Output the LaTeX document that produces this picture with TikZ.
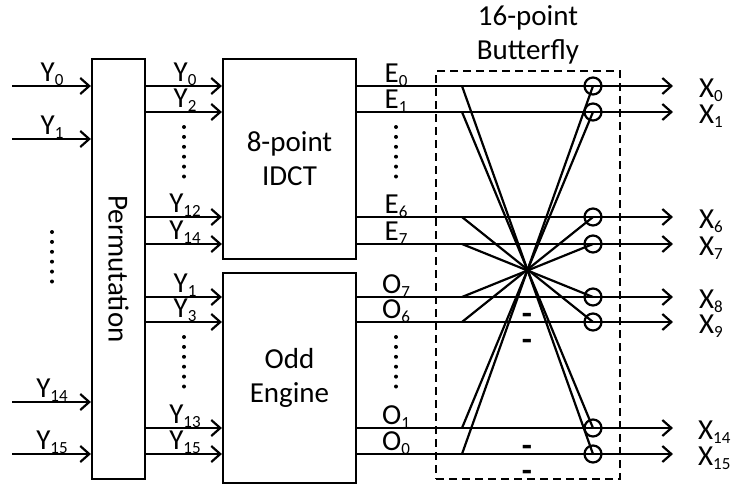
\documentclass[tikz,border=0pt]{standalone}
\usepackage{fontspec}
\setmainfont{Carlito}
\usetikzlibrary{arrows.meta,positioning}

\newcommand{\ssub}[1]{\raisebox{-4pt}{\fontsize{17}{17}\selectfont#1}}

\begin{document}
\begin{tikzpicture}[
  x=1pt, y=-1pt,
  font=\fontsize{29}{34}\selectfont,
  line width=2.2pt,
  blk/.style={draw, minimum width=133pt, inner sep=0pt, align=center},
  sig/.style={anchor=base, inner sep=0pt},
  outsig/.style={anchor=base west, inner sep=0pt},
  addnode/.style={draw, circle, minimum size=17pt, inner sep=0pt},
  dotcol/.style={line width=4pt, line cap=round, dash pattern=on 0pt off 9.9pt},
  minus/.style={font=\fontsize{33}{34}\selectfont\bfseries, inner sep=0pt, anchor=base},
  >={Straight Barb[length=9pt,width=16pt]}
]
\useasboundingbox (0,0) rectangle (732,483);

% blocks
\node[draw, minimum width=53pt, minimum height=420pt, inner sep=0pt] (perm) at (118.5,269) {};
\node[rotate=-90] (permtxt) at (perm.center) {Permutation};
\node[blk, minimum height=200pt] (idct) at (289.5,159) {8-point\\IDCT};
\node[blk, minimum height=210pt, below=12pt of idct] (odd) {Odd\\Engine};
\node[draw, dash pattern=on 8pt off 5pt, minimum width=184pt, minimum height=408pt, inner sep=0pt] (bfly) at (528,275) {};
\node[align=center, above=1pt of bfly] (bftitle) {16-point\\Butterfly};

% adders of the butterfly
\node[addnode] (c0) at (593,86) {};
\node[addnode] (c1) at (593,112) {};
\node[addnode] (c2) at (593,217) {};
\node[addnode] (c3) at (593,244) {};
\node[addnode] (c4) at (593,297) {};
\node[addnode] (c5) at (593,322) {};
\node[addnode] (c6) at (593,428) {};
\node[addnode] (c7) at (593,454) {};

\coordinate (b0) at (462,86);
\coordinate (b1) at (462,112);
\coordinate (b2) at (462,217);
\coordinate (b3) at (462,244);
\coordinate (b4) at (462,297);
\coordinate (b5) at (462,322);
\coordinate (b6) at (462,428);
\coordinate (b7) at (462,454);

\coordinate (o0) at (673,86);
\coordinate (o1) at (673,112);
\coordinate (o2) at (673,217);
\coordinate (o3) at (673,244);
\coordinate (o4) at (673,297);
\coordinate (o5) at (673,322);
\coordinate (o6) at (673,428);
\coordinate (o7) at (673,454);

\coordinate (in0) at (12,86);
\coordinate (in1) at (12,139);
\coordinate (in14) at (12,402);
\coordinate (in15) at (12,454);

% inputs
\draw[->] (in0) -- (in0 -| perm.west);
\draw[->] (in1) -- (in1 -| perm.west);
\draw[->] (in14) -- (in14 -| perm.west);
\draw[->] (in15) -- (in15 -| perm.west);

% permutation to engines
\draw[->] (perm.east |- c0) -- (idct.west |- c0);
\draw[->] (perm.east |- c1) -- (idct.west |- c1);
\draw[->] (perm.east |- c2) -- (idct.west |- c2);
\draw[->] (perm.east |- c3) -- (idct.west |- c3);
\draw[->] (perm.east |- c4) -- (odd.west |- c4);
\draw[->] (perm.east |- c5) -- (odd.west |- c5);
\draw[->] (perm.east |- c6) -- (odd.west |- c6);
\draw[->] (perm.east |- c7) -- (odd.west |- c7);

% engines to outputs
\draw[->] (idct.east |- c0) -- (o0);
\draw[->] (idct.east |- c1) -- (o1);
\draw[->] (idct.east |- c2) -- (o2);
\draw[->] (idct.east |- c3) -- (o3);
\draw[->] (odd.east |- c4) -- (o4);
\draw[->] (odd.east |- c5) -- (o5);
\draw[->] (odd.east |- c6) -- (o6);
\draw[->] (odd.east |- c7) -- (o7);

% butterfly cross lines
\draw (b0) -- (c7.center);
\draw (b1) -- (c6.center);
\draw (b2) -- (c5.center);
\draw (b3) -- (c4.center);
\draw (b4) -- (c3.center);
\draw (b5) -- (c2.center);
\draw (b6) -- (c1.center);
\draw (b7) -- (c0.center);

\node[minus] (m8) at (527,324) {-};
\node[minus] (m9) at (527,350) {-};
\node[minus] (m14) at (527,456) {-};
\node[minus] (m15) at (527,481) {-};

% labels
\node[sig] (ly0) at (52,81) {Y\ssub{0}};
\node[sig] (ly1) at (52,134) {Y\ssub{1}};
\node[sig] (ly14) at (52,397) {Y\ssub{14}};
\node[sig] (ly15) at (52,449) {Y\ssub{15}};

\node[sig] (ey0) at (185,81) {Y\ssub{0}};
\node[sig] (ey2) at (185,107) {Y\ssub{2}};
\node[sig] (ey12) at (185,212) {Y\ssub{12}};
\node[sig] (ey14) at (185,239) {Y\ssub{14}};
\node[sig] (oy1) at (185,292) {Y\ssub{1}};
\node[sig] (oy3) at (185,317) {Y\ssub{3}};
\node[sig] (oy13) at (185,423) {Y\ssub{13}};
\node[sig] (oy15) at (185,449) {Y\ssub{15}};

\node[sig] (le0) at (396,82) {E\ssub{0}};
\node[sig] (le1) at (396,108) {E\ssub{1}};
\node[sig] (le6) at (396,213) {E\ssub{6}};
\node[sig] (le7) at (396,240) {E\ssub{7}};
\node[sig] (lo7) at (396,293) {O\ssub{7}};
\node[sig] (lo6) at (396,318) {O\ssub{6}};
\node[sig] (lo1) at (396,424) {O\ssub{1}};
\node[sig] (lo0) at (396,450) {O\ssub{0}};

\node[outsig] (lx0) at (698,97) {X\ssub{0}};
\node[outsig] (lx1) at (698,123) {X\ssub{1}};
\node[outsig] (lx6) at (698,228) {X\ssub{6}};
\node[outsig] (lx7) at (698,255) {X\ssub{7}};
\node[outsig] (lx8) at (698,308) {X\ssub{8}};
\node[outsig] (lx9) at (698,333) {X\ssub{9}};
\node[outsig] (lx14) at (697,439) {X\ssub{14}};
\node[outsig] (lx15) at (697,465) {X\ssub{15}};

% dots
\draw[dotcol] (52,232) -- (52,282);
\draw[dotcol] (184,127) -- (184,177);
\draw[dotcol] (184,337) -- (184,387);
\draw[dotcol] (396,127) -- (396,177);
\draw[dotcol] (396,337) -- (396,387);

\end{tikzpicture}
\end{document}
